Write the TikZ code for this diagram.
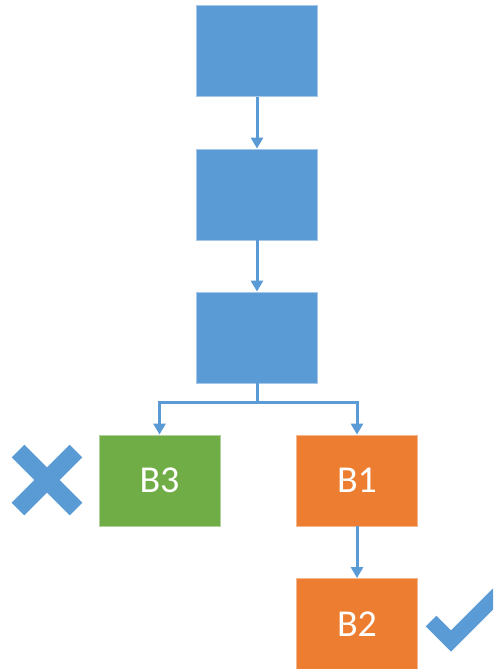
\documentclass[tikz,border=0pt]{standalone}
\usepackage{fontspec}
\setmainfont{Carlito}
\usetikzlibrary{arrows.meta}
\definecolor{obl}{HTML}{5B9BD5}
\definecolor{ogr}{HTML}{70AD47}
\definecolor{oor}{HTML}{ED7D31}
\tikzset{
  boxbase/.style={minimum width=121pt, minimum height=91pt, inner sep=0pt, line width=0.8pt, text=white, font=\fontsize{38}{40}\selectfont},
  bluebox/.style={boxbase, fill=obl, draw=obl!55!white},
  greenbox/.style={boxbase, fill=ogr, draw=ogr!55!white},
  orangebox/.style={boxbase, fill=oor, draw=oor!55!white},
  conn/.style={draw=obl, line width=3pt, -{Triangle[width=12pt,length=11pt]}},
  markline/.style={draw=obl, line cap=butt, line join=miter}
}
\begin{document}
\begin{tikzpicture}[x=1pt,y=-1pt]
\useasboundingbox (0,0) rectangle (493,669);
\clip (0,0) rectangle (493,669);
\node[bluebox] (a) at (257,51) {};
\node[bluebox] (b) at (257,194.5) {};
\node[bluebox] (c) at (257,337.5) {};
\node[greenbox] (b3) at (159.5,480.5) {B3};
\node[orangebox] (b1) at (357,480.5) {B1};
\node[orangebox] (b2) at (357,624) {B2};
\coordinate (split) at (257,402);
\draw[conn] (a.south) -- (b.north);
\draw[conn] (b.south) -- (c.north);
\draw[conn] (c.south) -- (split) -| (b3.north);
\draw[conn] (split) -| (b1.north);
\draw[conn] (b1.south) -- (b2.north);
% cross
\draw[markline, line width=18pt] (18,451) -- (76,509);
\draw[markline, line width=18pt] (18,509) -- (76,451);
% check
\draw[markline, line width=15pt] (431,621) -- (451,641) -- (498,594);
\end{tikzpicture}
\end{document}
